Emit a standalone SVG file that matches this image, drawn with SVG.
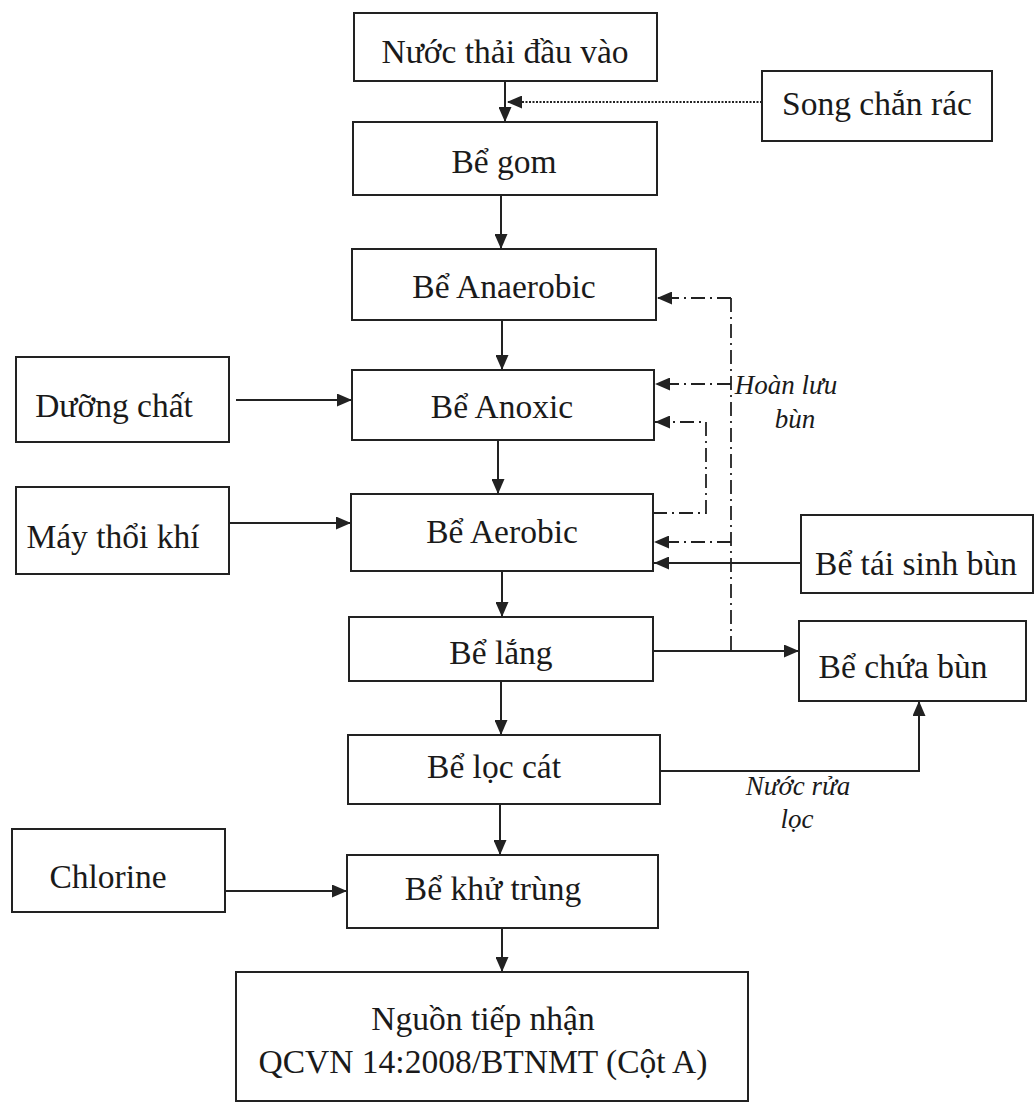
<svg xmlns="http://www.w3.org/2000/svg" width="1035" height="1104" viewBox="0 0 1035 1104">
<style>
.box{fill:#fff;stroke:#222;stroke-width:2}
.t{font-family:"Liberation Serif","Times New Roman",serif;font-size:33.5px;fill:#1a1a1a;text-anchor:middle}
.it{font-family:"Liberation Serif","Times New Roman",serif;font-size:27px;font-style:italic;fill:#1a1a1a;text-anchor:middle}
.ln{fill:none;stroke:#222;stroke-width:2}
.dd{fill:none;stroke:#222;stroke-width:1.8;stroke-dasharray:14 5 2 5}
.dot{fill:none;stroke:#222;stroke-width:1.8;stroke-dasharray:2 1.5}
</style>
<defs>
<marker id="ah" markerUnits="userSpaceOnUse" markerWidth="15" markerHeight="13" refX="15" refY="6.5" orient="auto">
<path d="M0,0 L15,6.5 L0,13 z" fill="#222"/>
</marker>
</defs>
<rect width="1035" height="1104" fill="#fff"/>

<g id="connectors">
<path class="ln" d="M505,81 V122" marker-end="url(#ah)"/>
<path class="dot" d="M762,102 H507" marker-end="url(#ah)"/>
<path class="ln" d="M501,195 V249" marker-end="url(#ah)"/>
<path class="ln" d="M502,320 V370" marker-end="url(#ah)"/>
<path class="ln" d="M498,440 V494" marker-end="url(#ah)"/>
<path class="ln" d="M502,571 V617" marker-end="url(#ah)"/>
<path class="ln" d="M501,681 V735" marker-end="url(#ah)"/>
<path class="ln" d="M500,804 V855" marker-end="url(#ah)"/>
<path class="ln" d="M502,928 V972" marker-end="url(#ah)"/>
<path class="ln" d="M236,400 H352" marker-end="url(#ah)"/>
<path class="ln" d="M229,523 H351" marker-end="url(#ah)"/>
<path class="ln" d="M225,891 H347" marker-end="url(#ah)"/>
<path class="dd" d="M731,298 H657" marker-end="url(#ah)"/>
<path class="dd" d="M731,298 V651"/>
<path class="dd" d="M731,384 H655" marker-end="url(#ah)"/>
<path class="dd" d="M653,513 H706 V422 H655" marker-end="url(#ah)"/>
<path class="dd" d="M731,542 H654" marker-end="url(#ah)"/>
<path class="ln" d="M801,563 H654" marker-end="url(#ah)"/>
<path class="ln" d="M653,651 H799" marker-end="url(#ah)"/>
<path class="ln" d="M660,771 H919 V701" marker-end="url(#ah)"/>
<text class="it" x="786" y="394">Hoàn lưu</text>
<text class="it" x="795" y="428">bùn</text>
<text class="it" x="798" y="795">Nước rửa</text>
<text class="it" x="797" y="828">lọc</text>
</g>

<g id="n-nuoc-thai"><rect class="box" x="354" y="13" width="303" height="68"/><text class="t" x="505" y="63">Nước thải đầu vào</text></g>
<g id="n-song-chan-rac"><rect class="box" x="762" y="71" width="230" height="70"/><text class="t" x="877" y="115">Song chắn rác</text></g>
<g id="n-be-gom"><rect class="box" x="353" y="122" width="304" height="73"/><text class="t" x="504" y="173">Bể gom</text></g>
<g id="n-anaerobic"><rect class="box" x="352" y="249" width="304" height="71"/><text class="t" x="504" y="298">Bể Anaerobic</text></g>
<g id="n-duong-chat"><rect class="box" x="16" y="357" width="213" height="85"/><text class="t" x="114" y="417">Dưỡng chất</text></g>
<g id="n-anoxic"><rect class="box" x="352" y="370" width="302" height="70"/><text class="t" x="502" y="418">Bể Anoxic</text></g>
<g id="n-may-thoi-khi"><rect class="box" x="16" y="487" width="213" height="87"/><text class="t" x="113" y="548">Máy thổi khí</text></g>
<g id="n-aerobic"><rect class="box" x="351" y="494" width="302" height="77"/><text class="t" x="502" y="543">Bể Aerobic</text></g>
<g id="n-tai-sinh-bun"><rect class="box" x="801" y="515" width="232" height="78"/><text class="t" x="916" y="575">Bể tái sinh bùn</text></g>
<g id="n-be-lang"><rect class="box" x="349" y="617" width="304" height="64"/><text class="t" x="501" y="664">Bể lắng</text></g>
<g id="n-chua-bun"><rect class="box" x="799" y="621" width="227" height="80"/><text class="t" x="903" y="678">Bể chứa bùn</text></g>
<g id="n-loc-cat"><rect class="box" x="348" y="735" width="312" height="69"/><text class="t" x="494" y="778">Bể lọc cát</text></g>
<g id="n-chlorine"><rect class="box" x="12" y="829" width="213" height="83"/><text class="t" x="108" y="888">Chlorine</text></g>
<g id="n-khu-trung"><rect class="box" x="347" y="855" width="311" height="73"/><text class="t" x="493" y="900">Bể khử trùng</text></g>
<g id="n-nguon-tiep-nhan"><rect class="box" x="236" y="972" width="512" height="129"/><text class="t" x="483" y="1030">Nguồn tiếp nhận</text><text class="t" x="483" y="1073">QCVN 14:2008/BTNMT (Cột A)</text></g>
</svg>
